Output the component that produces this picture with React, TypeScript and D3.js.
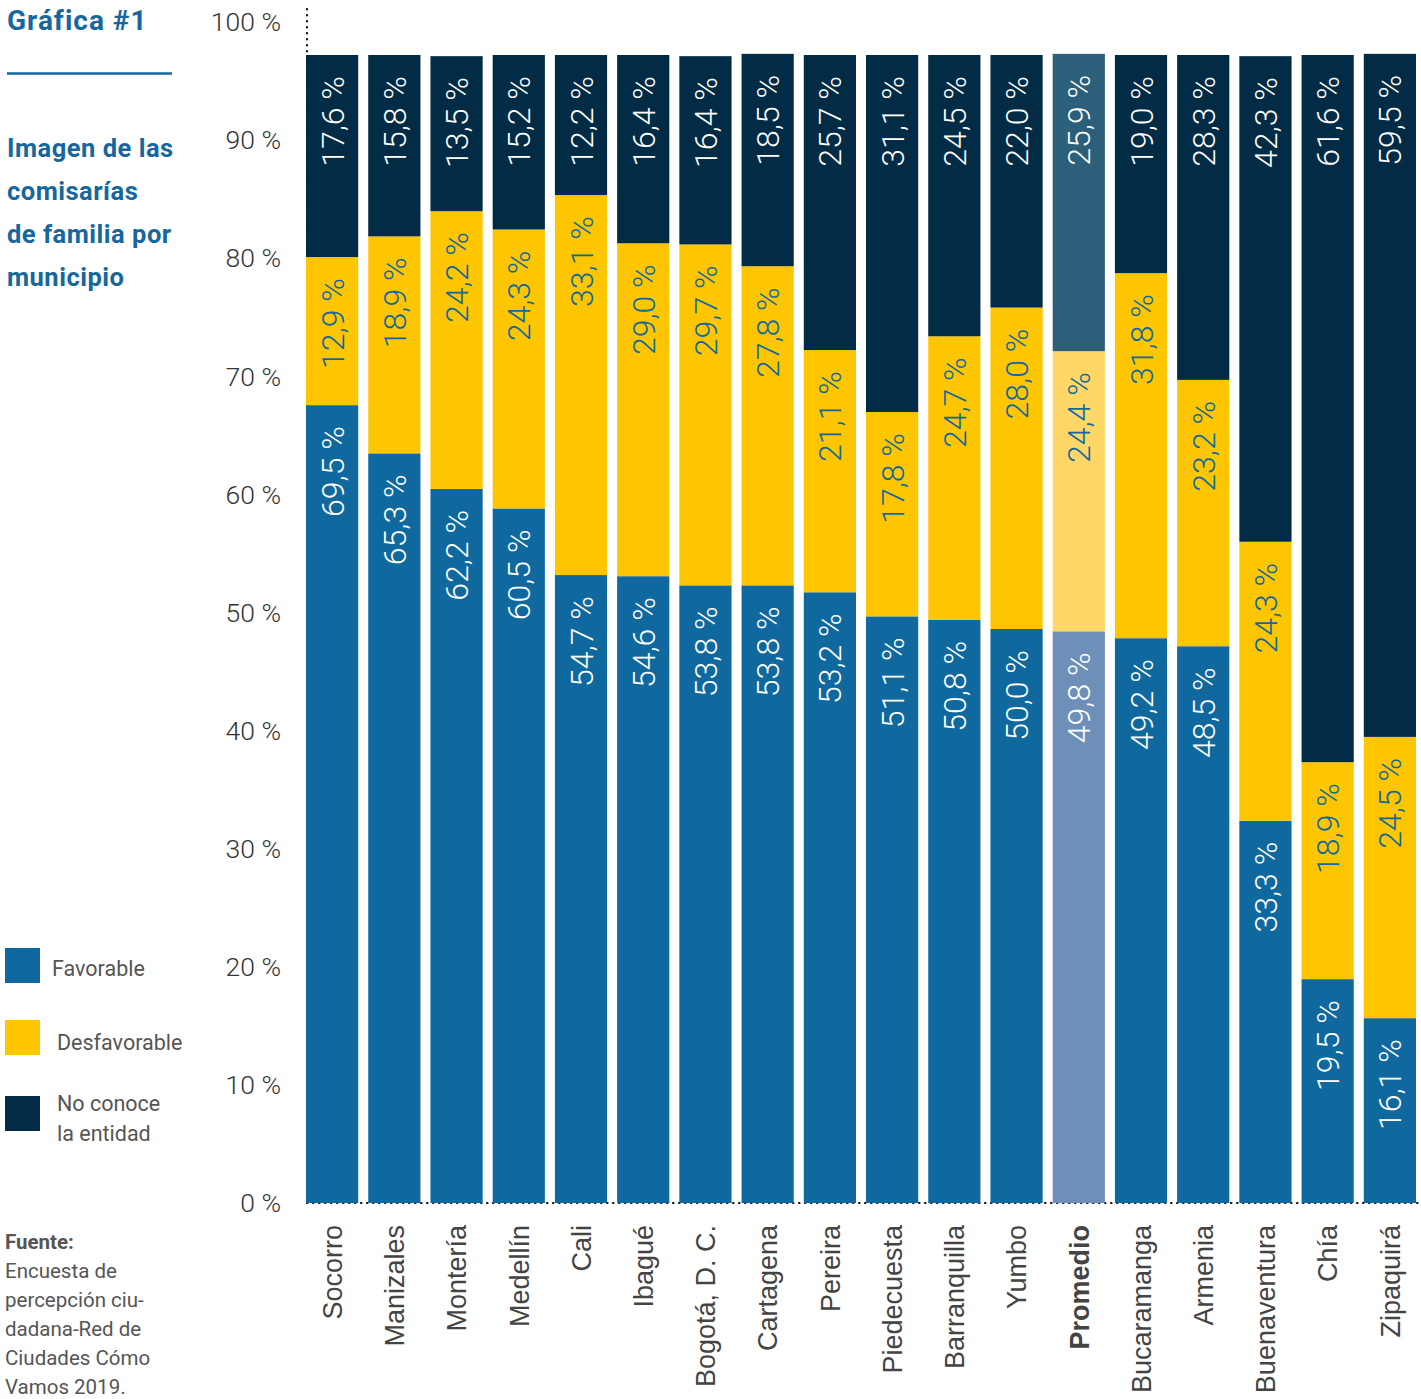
import { useEffect, useRef } from "react";
import * as d3 from "d3";

const municipios = [
  "Socorro", "Manizales", "Montería", "Medellín", "Cali", "Ibagué",
  "Bogotá, D. C.", "Cartagena", "Pereira", "Piedecuesta", "Barranquilla",
  "Yumbo", "Promedio", "Bucaramanga", "Armenia", "Buenaventura", "Chía", "Zipaquirá",
];
const favorable = [69.5, 65.3, 62.2, 60.5, 54.7, 54.6, 53.8, 53.8, 53.2, 51.1, 50.8, 50.0, 49.8, 49.2, 48.5, 33.3, 19.5, 16.1];
const desfavorable = [12.9, 18.9, 24.2, 24.3, 33.1, 29.0, 29.7, 27.8, 21.1, 17.8, 24.7, 28.0, 24.4, 31.8, 23.2, 24.3, 18.9, 24.5];
const noConoce = [17.6, 15.8, 13.5, 15.2, 12.2, 16.4, 16.4, 18.5, 25.7, 31.1, 24.5, 22.0, 25.9, 19.0, 28.3, 42.3, 61.6, 59.5];
const yTicks = [0, 10, 20, 30, 40, 50, 60, 70, 80, 90, 100];
const highlight = "Promedio";

const keys = ["favorable", "desfavorable", "noConoce"] as const;
const colors: Record<string, string> = {
  favorable: "#10699e",
  desfavorable: "#fec600",
  noConoce: "#022b45",
};
const colorsLight: Record<string, string> = {
  favorable: "#6e8fb8",
  desfavorable: "#ffd766",
  noConoce: "#2b5f7a",
};
const labelColors: Record<string, string> = {
  favorable: "#ffffff",
  desfavorable: "#10699e",
  noConoce: "#ffffff",
};

const TITLE_BLUE = "#16679e";
const GREY = "#555555";

function drawChart(svgEl: SVGSVGElement) {
  const svg = d3.select(svgEl);
  svg.selectAll("*").remove();

  const rows = municipios.map((m, i) => ({
    municipio: m,
    favorable: favorable[i],
    desfavorable: desfavorable[i],
    noConoce: noConoce[i],
  }));

  const x = d3
    .scaleBand()
    .domain(municipios)
    .range([301, 1421])
    .paddingInner(0.161)
    .paddingOuter(0.0805);

  // bars and tick labels don't share the same 100 % position in the original
  const yBar = d3.scaleLinear().domain([0, 100]).range([1203, 55]);
  const yTick = d3.scaleLinear().domain([0, 100]).range([1203, 22]);

  const fmt = (v: number) => d3.format(".1f")(v).replace(".", ",") + " %";

  // dotted axis lines
  svg
    .append("line")
    .attr("x1", 307)
    .attr("x2", 307)
    .attr("y1", 9)
    .attr("y2", 1203)
    .attr("stroke", "#111")
    .attr("stroke-width", 2.2)
    .attr("stroke-linecap", "round")
    .attr("stroke-dasharray", "0.5 5.5");
  svg
    .append("line")
    .attr("x1", 307)
    .attr("x2", 1418)
    .attr("y1", 1203)
    .attr("y2", 1203)
    .attr("stroke", "#111")
    .attr("stroke-width", 2.2)
    .attr("stroke-linecap", "round")
    .attr("stroke-dasharray", "0.5 5.5");

  // y tick labels
  svg
    .append("g")
    .attr("font-family", "Roboto")
    .attr("font-weight", 300)
    .attr("font-size", 26.5)
    .attr("fill", "#333")
    .attr("text-anchor", "end")
    .selectAll("text")
    .data(yTicks)
    .join("text")
    .attr("x", 281)
    .attr("y", (d) => yTick(d))
    .attr("dy", "0.35em")
    .text((d) => `${d} %`);

  const series = d3.stack<any>().keys(keys as any)(rows);

  // bars
  const layers = svg
    .append("g")
    .selectAll("g")
    .data(series)
    .join("g");

  layers
    .selectAll("rect")
    .data((s) => s.map((d) => ({ key: s.key, d })))
    .join("rect")
    .attr("x", (p) => x(p.d.data.municipio)!)
    .attr("width", x.bandwidth())
    .attr("y", (p) => yBar(p.d[1]))
    .attr("height", (p) => yBar(p.d[0]) - yBar(p.d[1]))
    .attr("fill", (p) =>
      p.d.data.municipio === highlight ? colorsLight[p.key] : colors[p.key],
    );

  // value labels
  layers
    .selectAll("text")
    .data((s) => s.map((d) => ({ key: s.key, d })))
    .join("text")
    .attr("font-family", "Roboto")
    .attr("font-weight", 300)
    .attr("font-size", 32)
    .attr("text-anchor", "end")
    .attr("dy", "0.36em")
    .attr("fill", (p) => labelColors[p.key])
    .attr(
      "transform",
      (p) =>
        `translate(${x(p.d.data.municipio)! + x.bandwidth() / 2},${
          yBar(p.d[1]) + 21
        }) rotate(-90)`,
    )
    .text((p) => fmt(p.d[1] - p.d[0]));

  // category labels
  svg
    .append("g")
    .attr("font-family", "Liberation Sans")
    .attr("font-size", 27)
    .attr("fill", "#444")
    .attr("text-anchor", "end")
    .selectAll("text")
    .data(municipios)
    .join("text")
    .attr("font-weight", (d) => (d === highlight ? 700 : 400))
    .attr("dy", "0.36em")
    .attr(
      "transform",
      (d) => `translate(${x(d)! + x.bandwidth() / 2},1225) rotate(-90)`,
    )
    .text((d) => d);

  // left panel
  const panel = svg.append("g").attr("font-family", "Roboto");
  panel
    .append("text")
    .attr("x", 7)
    .attr("y", 30)
    .attr("font-size", 28)
    .attr("font-weight", 700)
    .attr("letter-spacing", 1)
    .attr("fill", TITLE_BLUE)
    .text("Gráfica #1");
  panel
    .append("line")
    .attr("x1", 7)
    .attr("x2", 172)
    .attr("y1", 73.5)
    .attr("y2", 73.5)
    .attr("stroke", TITLE_BLUE)
    .attr("stroke-width", 2.5);
  ["Imagen de las", "comisarías", "de familia por", "municipio"].forEach((t, i) => {
    panel
      .append("text")
      .attr("x", 7)
      .attr("y", 157 + i * 43)
      .attr("font-size", 25.5)
      .attr("font-weight", 700)
      .attr("letter-spacing", 0.5)
      .attr("fill", TITLE_BLUE)
      .text(t);
  });

  // legend
  const legend = [
    { key: "favorable", y: 948, lines: ["Favorable"], tx: 52, ty: [968] },
    { key: "desfavorable", y: 1020, lines: ["Desfavorable"], tx: 57, ty: [1042] },
    { key: "noConoce", y: 1096, lines: ["No conoce", "la entidad"], tx: 57, ty: [1103, 1133] },
  ];
  legend.forEach((l) => {
    panel
      .append("rect")
      .attr("x", 5)
      .attr("y", l.y)
      .attr("width", 35)
      .attr("height", 35)
      .attr("fill", colors[l.key]);
    l.lines.forEach((t, i) => {
      panel
        .append("text")
        .attr("x", l.tx)
        .attr("y", l.ty[i])
        .attr("dy", "0.36em")
        .attr("font-size", 21.5)
        .attr("fill", GREY)
        .text(t);
    });
  });

  // source
  const fuente = [
    "Encuesta de",
    "percepción ciu-",
    "dadana-Red de",
    "Ciudades Cómo",
    "Vamos 2019.",
  ];
  panel
    .append("text")
    .attr("x", 5)
    .attr("y", 1242)
    .attr("dy", "0.36em")
    .attr("font-size", 20.5)
    .attr("font-weight", 700)
    .attr("fill", GREY)
    .text("Fuente:");
  fuente.forEach((t, i) => {
    panel
      .append("text")
      .attr("x", 5)
      .attr("y", 1271 + i * 29)
      .attr("dy", "0.36em")
      .attr("font-size", 20.5)
      .attr("fill", GREY)
      .text(t);
  });
}

export default function App() {
  const svgRef = useRef<SVGSVGElement>(null);
  useEffect(() => {
    if (svgRef.current) drawChart(svgRef.current);
  }, []);
  return (
    <svg
      ref={svgRef}
      width={1421}
      height={1399}
      style={{ position: "absolute", left: 0, top: 0, background: "#fff" }}
    />
  );
}
